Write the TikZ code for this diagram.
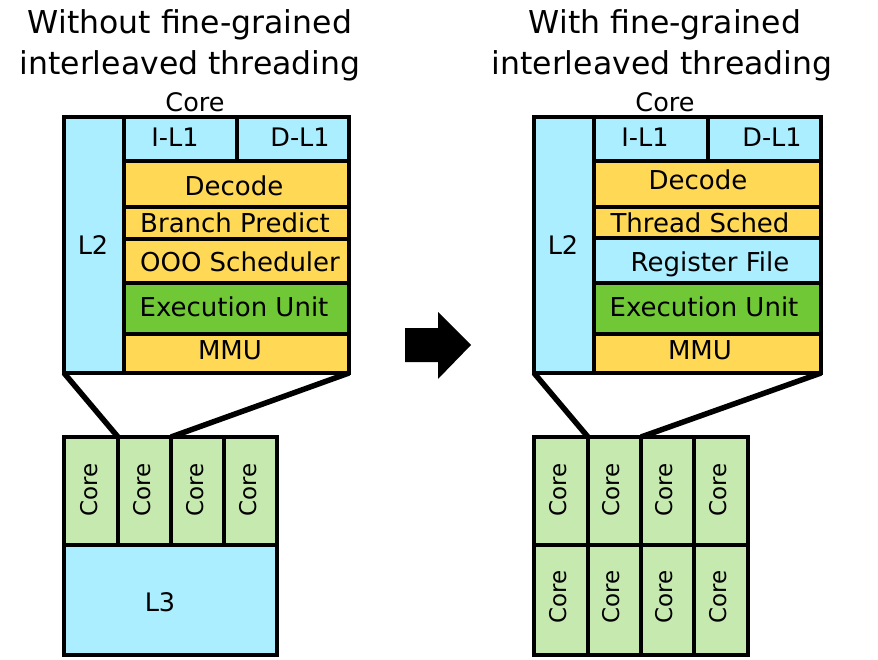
\documentclass[tikz,border=0pt]{standalone}
\usepackage{fontspec}
\setmainfont{DejaVu Sans}
\definecolor{lblue}{RGB}{170,238,255}
\definecolor{yel}{RGB}{255,217,85}
\definecolor{grn}{RGB}{113,200,55}
\definecolor{lgrn}{RGB}{198,233,175}
\newcommand\cellbox[6]{\node[box, fill=#6, minimum width={(#4-#2)*1pt}, minimum height={(#5-#3)*1pt}, anchor=north west] (#1) at (#2,#3) {};}
\tikzset{
  box/.style={draw=black, line width=3.2pt, inner sep=0pt, outer sep=0pt},
  lbl/.style={font=\fontsize{26}{30}\selectfont, inner sep=0pt, text height=19pt, text depth=0pt},
  slbl/.style={font=\fontsize{25.5}{30}\selectfont, inner sep=0pt, text height=18.5pt, text depth=0pt},
  rlbl/.style={font=\fontsize{23}{28}\selectfont, inner sep=0pt, text height=17pt, text depth=0pt, rotate=90},
  ttl/.style={font=\fontsize{31.5}{36}\selectfont, inner sep=0pt, text height=23pt, text depth=0pt},
  zoomline/.style={line width=5.5pt},
}
\begin{document}
\begin{tikzpicture}[x=1pt,y=-1pt]
\useasboundingbox (0,0) rectangle (878,660);
% titles
\node[ttl] (t1a) at (190,22) {Without fine-grained};
\node[ttl] (t1b) at (190,63) {interleaved threading};
\node[ttl] (t2a) at (665,22) {With fine-grained};
\node[ttl] (t2b) at (662,63) {interleaved threading};
% left core
\cellbox{L2L}{64}{117}{124}{373}{lblue}
\cellbox{IL1L}{124}{117}{237}{161}{lblue}
\cellbox{DL1L}{237}{117}{349}{161}{lblue}
\cellbox{decL}{124}{161}{349}{207}{yel}
\cellbox{bpL}{124}{207}{349}{239}{yel}
\cellbox{oooL}{124}{239}{349}{283}{yel}
\cellbox{exL}{124}{283}{349}{334}{grn}
\cellbox{mmuL}{124}{334}{349}{373}{yel}
\node[slbl] (coreL) at (195,102) {Core};
\node[slbl] (tL2L) at (93,245) {L2};
\node[slbl] (tIL1L) at (175,137) {I-L1};
\node[slbl] (tDL1L) at (300,137) {D-L1};
\node[lbl] (tdecL) at (234,186) {Decode};
\node[lbl] (tbpL) at (235,223) {Branch Predict};
\node[lbl] (toooL) at (240,262) {OOO Scheduler};
\node[lbl] (texL) at (234,307) {Execution Unit};
\node[lbl] (tmmuL) at (230,350) {MMU};
% right core
\cellbox{L2R}{534}{117}{594}{373}{lblue}
\cellbox{IL1R}{594}{117}{708}{161}{lblue}
\cellbox{DL1R}{708}{117}{821}{161}{lblue}
\cellbox{decR}{594}{161}{821}{207}{yel}
\cellbox{tsR}{594}{207}{821}{238}{yel}
\cellbox{rfR}{594}{238}{821}{283}{lblue}
\cellbox{exR}{594}{283}{821}{334}{grn}
\cellbox{mmuR}{594}{334}{821}{373}{yel}
\node[slbl] (coreR) at (665,102) {Core};
\node[slbl] (tL2R) at (563,245) {L2};
\node[slbl] (tIL1R) at (645,137) {I-L1};
\node[slbl] (tDL1R) at (772,137) {D-L1};
\node[lbl] (tdecR) at (698,180) {Decode};
\node[lbl] (ttsR) at (700,223) {Thread Sched};
\node[lbl] (trfR) at (710,262) {Register File};
\node[lbl] (texR) at (704,307) {Execution Unit};
\node[lbl] (tmmuR) at (700,350) {MMU};
% bottom left chip
\cellbox{cL1}{64}{437}{118}{545}{lgrn}
\cellbox{cL2}{118}{437}{171}{545}{lgrn}
\cellbox{cL3}{171}{437}{224}{545}{lgrn}
\cellbox{cL4}{224}{437}{277}{545}{lgrn}
\cellbox{L3}{64}{545}{277}{655}{lblue}
\node[rlbl] (tcL1) at (89,490) {Core};
\node[rlbl] (tcL2) at (142,490) {Core};
\node[rlbl] (tcL3) at (195,490) {Core};
\node[rlbl] (tcL4) at (248,490) {Core};
\node[slbl] (tL3) at (160,602) {L3};
% bottom right chip
\cellbox{cR1}{534}{437}{588}{545}{lgrn}
\cellbox{cR2}{588}{437}{641}{545}{lgrn}
\cellbox{cR3}{641}{437}{694}{545}{lgrn}
\cellbox{cR4}{694}{437}{748}{545}{lgrn}
\cellbox{cR5}{534}{545}{588}{655}{lgrn}
\cellbox{cR6}{588}{545}{641}{655}{lgrn}
\cellbox{cR7}{641}{545}{694}{655}{lgrn}
\cellbox{cR8}{694}{545}{748}{655}{lgrn}
\node[rlbl] (tcR1) at (558,490) {Core};
\node[rlbl] (tcR2) at (611,490) {Core};
\node[rlbl] (tcR3) at (664,490) {Core};
\node[rlbl] (tcR4) at (718,490) {Core};
\node[rlbl] (tcR5) at (558,597) {Core};
\node[rlbl] (tcR6) at (611,597) {Core};
\node[rlbl] (tcR7) at (664,597) {Core};
\node[rlbl] (tcR8) at (718,597) {Core};
% zoom lines
\draw[zoomline] (L2L.south west) -- (cL1.north east);
\draw[zoomline] (mmuL.south east) -- (cL3.north west);
\draw[zoomline] (L2R.south west) -- (cR1.north east);
\draw[zoomline] (mmuR.south east) -- (cR3.north west);
% big arrow
\fill[black] (405,328) -- (438,328) -- (438,312) -- (471,345) -- (438,379) -- (438,362) -- (405,362) -- cycle;
\end{tikzpicture}
\end{document}
